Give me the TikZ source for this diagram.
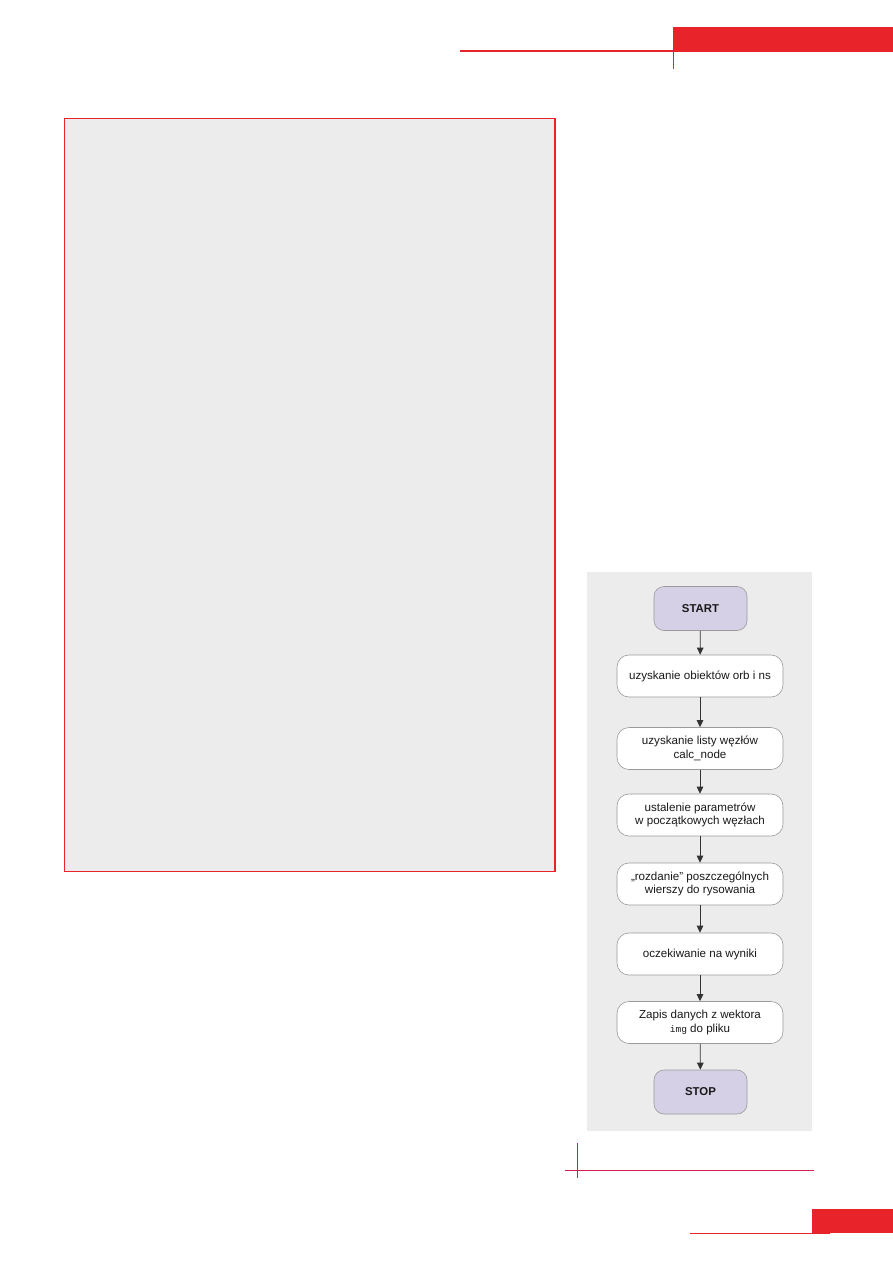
\documentclass[tikz,border=0pt]{standalone}
\usepackage{fontspec}
\setmainfont{Liberation Sans}
\setmonofont{Liberation Mono}
\usetikzlibrary{arrows.meta}
\definecolor{pagered}{HTML}{E8232A}
\definecolor{crim}{HTML}{D51F50}
\definecolor{panelgray}{HTML}{EBECEB}
\definecolor{startfill}{HTML}{D5D0E5}
\definecolor{boxline}{HTML}{9A9A9A}
\definecolor{arrowcol}{HTML}{333333}
\tikzset{
  stepbox/.style={draw=boxline, line width=0.6pt, fill=white, rounded corners=12pt,
    minimum width=166pt, minimum height=42pt, align=center, inner sep=2pt,
    font=\fontsize{11.6}{13.4}\selectfont, text=black!90},
  termbox/.style={draw=boxline, line width=0.6pt, fill=startfill, rounded corners=10pt,
    minimum width=93pt, minimum height=44pt, align=center,
    font=\fontsize{11.4}{13.4}\selectfont\bfseries, text=black!90},
  flow/.style={draw=arrowcol, line width=0.8pt, -{Triangle[width=6.5pt,length=7pt]}}
}
\begin{document}
\begin{tikzpicture}[x=1pt,y=-1pt]
\useasboundingbox (0,0) rectangle (893,1263);
% header
\fill[pagered] (673,27) rectangle (893,52);
\draw[pagered, line width=1.4pt] (460,51) -- (673,51);
\draw[pagered, line width=0.9pt] (673,51) -- (673,69);
% big panel
\draw[pagered, fill=panelgray, line width=1.8pt] (64.5,118.5) rectangle (555,871.5);
% flowchart panel
\fill[panelgray] (587,572) rectangle (811.5,1131);
% nodes
\node[termbox] (start) at (700.5,608.5) {START};
\node[stepbox] (n1) at (700,676) {uzyskanie obiektów orb i ns};
\node[stepbox] (n2) at (700,748.5) {uzyskanie listy węzłów\\calc\_node};
\node[stepbox] (n3) at (700,815) {ustalenie parametrów\\w początkowych węzłach};
\node[stepbox] (n4) at (700,884) {„rozdanie” poszczególnych\\wierszy do rysowania};
\node[stepbox] (n5) at (700,954) {oczekiwanie na wyniki};
\node[stepbox] (n6) at (700,1022.5) {Zapis danych z wektora\\{\ttfamily\fontsize{9.5}{13.4}\selectfont img} do pliku};
\node[termbox] (stop) at (700.5,1092) {STOP};
% connectors
\draw[flow] (start) -- (n1);
\draw[flow] (n1) -- (n2);
\draw[flow] (n2) -- (n3);
\draw[flow] (n3) -- (n4);
\draw[flow] (n4) -- (n5);
\draw[flow] (n5) -- (n6);
\draw[flow] (n6) -- (stop);
% footer
\draw[crim, line width=0.8pt] (565,1170) -- (814,1170);
\draw[crim, line width=0.8pt] (577,1143) -- (577,1178);
\fill[pagered] (812,1209) rectangle (893,1233);
\draw[pagered, line width=0.9pt] (690,1233.5) -- (830,1233.5);
\end{tikzpicture}
\end{document}
